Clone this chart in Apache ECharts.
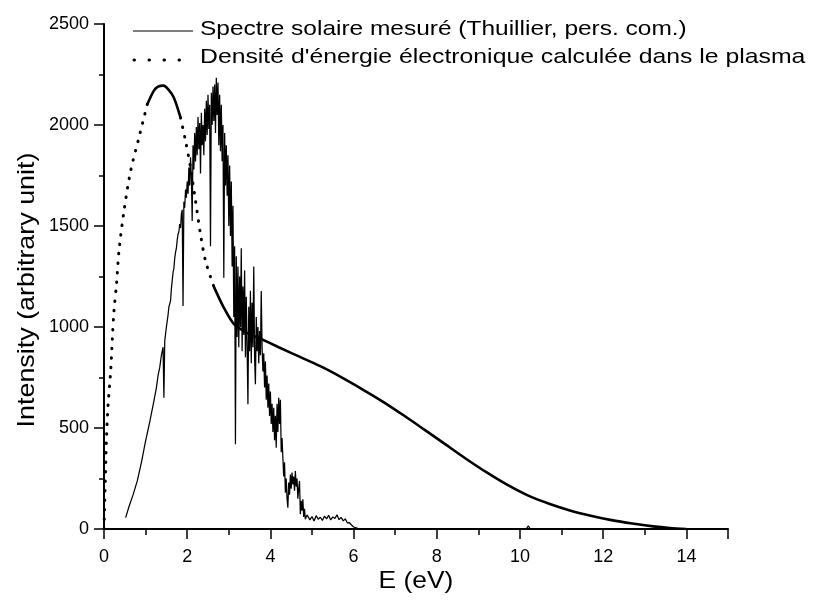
<!DOCTYPE html>
<html>
<head>
<meta charset="utf-8">
<script src="https://cdn.jsdelivr.net/npm/echarts@6/dist/echarts.min.js"></script>
<style>html,body{margin:0;padding:0;background:#fff}#c{width:814px;height:605px}</style>
</head>
<body>
<div id="c"></div>
<script>
// ---- Data ----
const legendLabels = [
  'Spectre solaire mesuré (Thuillier, pers. com.)',
  "Densité d'énergie électronique calculée dans le plasma"
];
const xTitle = 'E (eV)';
const yTitle = 'Intensity (arbitrary unit)';
const xTickLabels = [0, 2, 4, 6, 8, 10, 12, 14];
const yTickLabels = [0, 500, 1000, 1500, 2000, 2500];

// Measured solar spectrum [E (eV), intensity]
const solarSpectrum = [
  [0.52,56],[0.6,110],[0.7,170],[0.8,238],[0.9,330],[1.0,436],[1.1,530],[1.2,634],[1.26,700],[1.3,760],
  [1.34,800],[1.38,860],[1.4,881],[1.42,900],[1.44,650],[1.46,930],[1.5,1000],[1.54,1060],[1.56,1100],
  [1.60,1130],[1.62,1190],[1.64,1230],[1.66,1270],[1.68,1290],[1.70,1340],[1.72,1370],[1.74,1390],
  [1.76,1430],[1.78,1460],[1.80,1470],[1.82,1510],[1.84,1490],[1.86,1560],[1.88,1580],[1.90,1104],
  [1.92,1620],[1.94,1590],[1.96,1680],[1.98,1640],[2.00,1720],[2.02,1660],[2.04,1790],[2.06,1700],
  [2.08,1840],[2.10,1740],[2.12,1525],[2.14,1900],[2.16,1780],[2.18,1960],[2.20,1820],[2.22,1990],
  [2.24,1850],[2.26,2040],[2.28,1880],[2.30,2010],[2.32,1760],[2.34,2060],[2.36,1900],[2.38,2000],
  [2.40,1850],[2.42,2080],[2.44,1920],[2.46,2120],[2.48,1950],[2.50,2150],[2.52,1980],[2.54,2100],
  [2.56,1400],[2.58,2160],[2.60,2000],[2.62,2190],[2.64,2020],[2.66,2200],[2.68,1960],[2.70,2234],
  [2.72,2050],[2.74,2210],[2.76,1900],[2.78,2150],[2.80,1870],[2.82,2100],[2.84,1820],[2.86,2000],
  [2.88,1244],[2.90,1960],[2.92,1700],[2.94,1900],[2.96,1650],[2.98,1850],[3.00,1500],[3.02,1800],
  [3.04,1450],[3.06,1720],[3.08,1300],[3.10,1600],[3.12,1050],[3.14,1400],[3.16,420],[3.18,1350],
  [3.20,950],[3.22,1300],[3.24,900],[3.26,1250],[3.28,1000],[3.30,1390],[3.32,880],[3.34,1200],
  [3.36,960],[3.38,1280],[3.40,850],[3.42,1150],[3.44,900],[3.46,618],[3.48,1100],[3.50,880],
  [3.52,1180],[3.54,820],[3.56,1120],[3.58,900],[3.60,1300],[3.62,850],[3.64,717],[3.66,1050],
  [3.68,880],[3.70,1000],[3.72,820],[3.74,980],[3.76,860],[3.78,1178],[3.80,900],[3.82,780],
  [3.84,870],[3.86,700],[3.88,830],[3.90,640],[3.92,760],[3.94,600],[3.96,720],[3.98,560],
  [4.00,680],[4.02,520],[4.04,620],[4.06,480],[4.08,600],[4.10,440],[4.12,560],[4.14,402],
  [4.16,620],[4.18,480],[4.20,650],[4.22,520],[4.24,640],[4.26,380],[4.28,450],[4.30,353],
  [4.32,260],[4.34,330],[4.36,180],[4.38,250],[4.40,150],[4.42,105],[4.44,230],[4.46,170],
  [4.48,270],[4.50,200],[4.52,280],[4.54,220],[4.56,260],[4.58,190],[4.60,287],[4.62,210],
  [4.64,250],[4.66,150],[4.68,200],[4.70,238],[4.72,73],[4.74,139],[4.76,90],[4.78,147],
  [4.80,60],[4.82,100],[4.84,48],[4.86,56],[4.88,70],
  [4.95,45],[5.0,62],[5.05,40],[5.1,66],[5.15,48],[5.2,58],[5.25,42],[5.3,64],[5.35,50],[5.4,68],
  [5.45,45],[5.5,60],[5.55,52],[5.6,70],[5.65,46],[5.7,58],[5.75,40],[5.8,50],[5.85,30],[5.9,31],
  [5.95,20],[6.0,10],[6.1,3],[6.2,0],[10.15,0],[10.2,15],[10.25,0]
];

// Computed electron energy density in the plasma [E (eV), intensity]
const plasmaDensity = [
  [0,0],[0.02,150],[0.04,300],[0.06,450],[0.1,620],[0.16,780],[0.2,940],[0.24,1080],[0.3,1210],
  [0.36,1376],[0.48,1574],[0.64,1772],[0.84,1937],[1.04,2102],[1.2,2170],[1.3,2190],[1.43,2195],
  [1.55,2175],[1.68,2135],[1.84,2036],[1.96,1921],[2.08,1789],[2.2,1624],[2.32,1460],[2.44,1327],
  [2.64,1200],[2.88,1096],[3.12,1015],[3.4,975],[3.71,947],[4.2,900],[4.71,852],[5.2,806],
  [5.7,752],[6.2,693],[6.7,631],[7.2,563],[7.7,492],[8.2,420],[8.7,348],[9.2,280],[9.7,218],
  [10.2,165],[10.7,125],[11.2,92],[11.7,66],[12.2,44],[12.7,27],[13.2,13],[13.6,5],[14,0]
];

// ---- Chart ----
const FONT = '"Liberation Sans", Arial, sans-serif';
const inRange = (a, b) => plasmaDensity.filter(p => p[0] >= a && p[0] <= b);
const dotted = { color: '#000', width: 3, type: [0.5, 9], cap: 'round' };
const solid = { color: '#000', width: 2.6 };
const GRID = { left: 104, right: 86, top: 24, bottom: 76 };

const chart = echarts.init(document.getElementById('c'), null, { renderer: 'canvas' });
chart.setOption({
  backgroundColor: '#fff',
  animation: false,
  grid: GRID,
  xAxis: [{
    type: 'value', min: 0, max: 15, interval: 2,
    axisLine: { show: true, onZero: false, lineStyle: { color: '#000', width: 2 } },
    axisTick: { show: true, inside: false, length: 10, lineStyle: { color: '#000', width: 1.5 } },
    axisLabel: {
      color: '#000', fontFamily: FONT, fontSize: 18, margin: 19,
      formatter: v => (xTickLabels.indexOf(v) >= 0 ? String(v) : '')
    },
    splitLine: { show: false }
  }, {
    type: 'value', min: 0, max: 15, interval: 1, position: 'bottom',
    axisLine: { show: false, onZero: false },
    axisTick: { show: true, inside: false, length: 6, lineStyle: { color: '#000', width: 1.5 } },
    axisLabel: { show: false },
    splitLine: { show: false }
  }],
  yAxis: {
    type: 'value', min: 0, max: 2500, interval: 500,
    axisLine: { show: true, lineStyle: { color: '#000', width: 2 } },
    axisTick: { show: true, inside: false, length: 10, lineStyle: { color: '#000', width: 1.5 } },
    minorTick: { show: true, splitNumber: 2, length: 5, lineStyle: { color: '#000', width: 1.5 } },
    axisLabel: {
      color: '#000', fontFamily: FONT, fontSize: 18, margin: 15,
      formatter: v => (yTickLabels.indexOf(v) >= 0 ? String(v) : '')
    },
    splitLine: { show: false }
  },
  series: [
    { name: legendLabels[1], type: 'line', data: inRange(0, 1.04), showSymbol: false, smooth: 0.3, lineStyle: dotted },
    { type: 'line', data: inRange(1.04, 1.84), showSymbol: false, smooth: 0.3, lineStyle: solid },
    { type: 'line', data: inRange(1.84, 2.64), showSymbol: false, smooth: 0.3, lineStyle: dotted },
    { type: 'line', data: inRange(2.64, 14), showSymbol: false, smooth: 0.3, lineStyle: solid },
    { name: legendLabels[0], type: 'line', data: solarSpectrum, showSymbol: false, sampling: null,
      lineStyle: { color: '#000', width: 1.25 } }
  ],
  graphic: [
    { type: 'line', shape: { x1: 133, y1: 31, x2: 193, y2: 31 }, style: { stroke: '#000', lineWidth: 1 } },
    { type: 'text', x: 200, y: 29, scaleX: 1.165, style: { text: legendLabels[0], fill: '#000', font: '21px ' + FONT, verticalAlign: 'middle', align: 'left' } },
    { type: 'line', shape: { x1: 134, y1: 60, x2: 194, y2: 60 }, style: { stroke: '#000', lineWidth: 3, lineDash: [0.5, 14.5], lineCap: 'round' } },
    { type: 'text', x: 200, y: 57.5, scaleX: 1.18, style: { text: legendLabels[1], fill: '#000', font: '21px ' + FONT, verticalAlign: 'middle', align: 'left' } },
    { type: 'text', x: 416, y: 581, scaleX: 1.1, style: { text: xTitle, fill: '#000', font: '24px ' + FONT, verticalAlign: 'middle', align: 'center' } },
    { type: 'text', x: 27, y: 290, rotation: Math.PI / 2, scaleX: 1.12, style: { text: yTitle, fill: '#000', font: '24px ' + FONT, verticalAlign: 'middle', align: 'center' } }
  ]
});
</script>
</body>
</html>
